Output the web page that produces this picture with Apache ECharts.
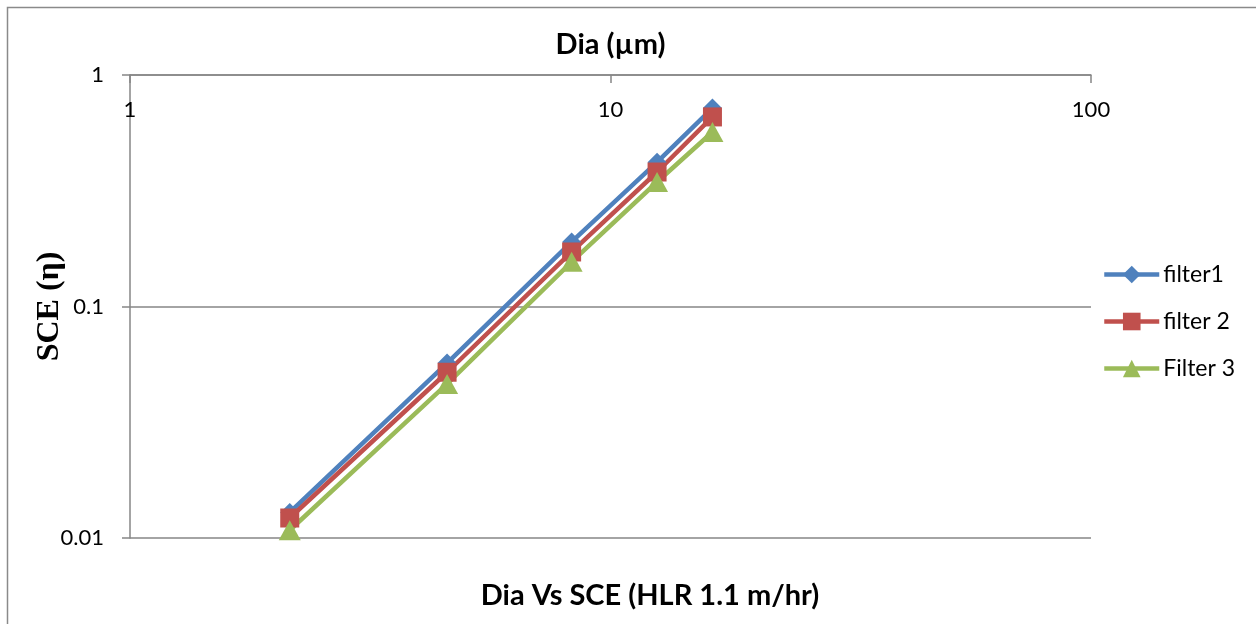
<!DOCTYPE html>
<html>
<head>
<meta charset="utf-8">
<script src="https://cdn.jsdelivr.net/npm/echarts@6/dist/echarts.min.js"></script>
<style>
  html, body { margin: 0; padding: 0; background: #fff; }
  #chart { width: 1256px; height: 624px; }
</style>
</head>
<body>
<div id="chart"></div>
<script>
// Particle diameter (µm) and single collector efficiency for three filters
const dia = [2.15, 4.57, 8.3, 12.5, 16.3];
const filter1 = [0.0129, 0.057, 0.19, 0.42, 0.72];
const filter2 = [0.0122, 0.052, 0.172, 0.381, 0.659];
const filter3 = [0.0108, 0.0463, 0.156, 0.345, 0.567];
const seriesNames = ['filter1', 'filter 2', 'Filter 3'];
const seriesColors = ['#4F81BD', '#C0504D', '#9BBB59'];

const pairs = (xs, ys) => xs.map((x, i) => [x, ys[i]]);

const chart = echarts.init(document.getElementById('chart'));
chart.setOption({
  animation: false,
  backgroundColor: '#ffffff',
  textStyle: { fontFamily: 'Lato, "Open Sans", sans-serif' },
  graphic: [{
    type: 'rect',
    shape: { x: 7.5, y: 7.5, width: 1270, height: 640 },
    style: { fill: 'none', stroke: '#8a8a8a', lineWidth: 1.5 },
    silent: true
  }],
  title: {
    text: 'Dia Vs SCE (HLR 1.1 m/hr)',
    left: 645, top: 576, textAlign: 'center',
    textStyle: { fontFamily: 'Lato', fontWeight: 'bold', fontSize: 29, color: '#000' }
  },
  legend: {
    orient: 'vertical',
    left: 1097, top: 258,
    itemWidth: 55, itemHeight: 22, itemGap: 24,
    lineStyle: { width: 4.5 },
    textStyle: { fontFamily: 'Lato', fontSize: 23, color: '#000', padding: [0, 0, 0, -1] },
    data: seriesNames
  },
  grid: { left: 130, top: 75, right: 165, bottom: 86 },
  xAxis: {
    type: 'log', logBase: 10, min: 1, max: 100,
    position: 'top',
    name: 'Dia (µm)', nameLocation: 'middle', nameGap: 16,
    nameTextStyle: { fontFamily: 'Lato', fontWeight: 'bold', fontSize: 29, color: '#000' },
    axisLine: { show: true, lineStyle: { color: '#868686', width: 1.5 } },
    axisTick: { show: true, inside: true, length: 8, lineStyle: { color: '#868686', width: 1.5 } },
    axisLabel: { inside: true, margin: 24, fontSize: 22, color: '#000', fontFamily: 'Lato' },
    splitLine: { show: false },
    minorTick: { show: false }
  },
  yAxis: {
    type: 'log', logBase: 10, min: 0.01, max: 1,
    name: 'SCE (η)', nameLocation: 'middle', nameGap: 64, nameRotate: 90,
    nameMoveOverlap: false,
    nameTextStyle: { fontFamily: '"Liberation Serif", serif', fontWeight: 'bold', fontSize: 32, color: '#000' },
    axisLine: { show: true, lineStyle: { color: '#868686', width: 1.5 } },
    axisTick: { show: true, length: 8, lineStyle: { color: '#868686', width: 1.5 } },
    axisLabel: { margin: 26, fontSize: 22, color: '#000', fontFamily: 'Lato' },
    splitLine: { show: true, lineStyle: { color: '#868686', width: 1.5 } }
  },
  series: [
    {
      name: seriesNames[0], type: 'line', data: pairs(dia, filter1),
      symbol: 'diamond', symbolSize: 19,
      itemStyle: { color: seriesColors[0] },
      lineStyle: { width: 4.5, color: seriesColors[0] }
    },
    {
      name: seriesNames[1], type: 'line', data: pairs(dia, filter2),
      symbol: 'rect', symbolSize: 19,
      itemStyle: { color: seriesColors[1] },
      lineStyle: { width: 4.5, color: seriesColors[1] }
    },
    {
      name: seriesNames[2], type: 'line', data: pairs(dia, filter3),
      symbol: 'triangle', symbolSize: [22, 20],
      itemStyle: { color: seriesColors[2] },
      lineStyle: { width: 4.5, color: seriesColors[2] }
    }
  ]
});
</script>
</body>
</html>
